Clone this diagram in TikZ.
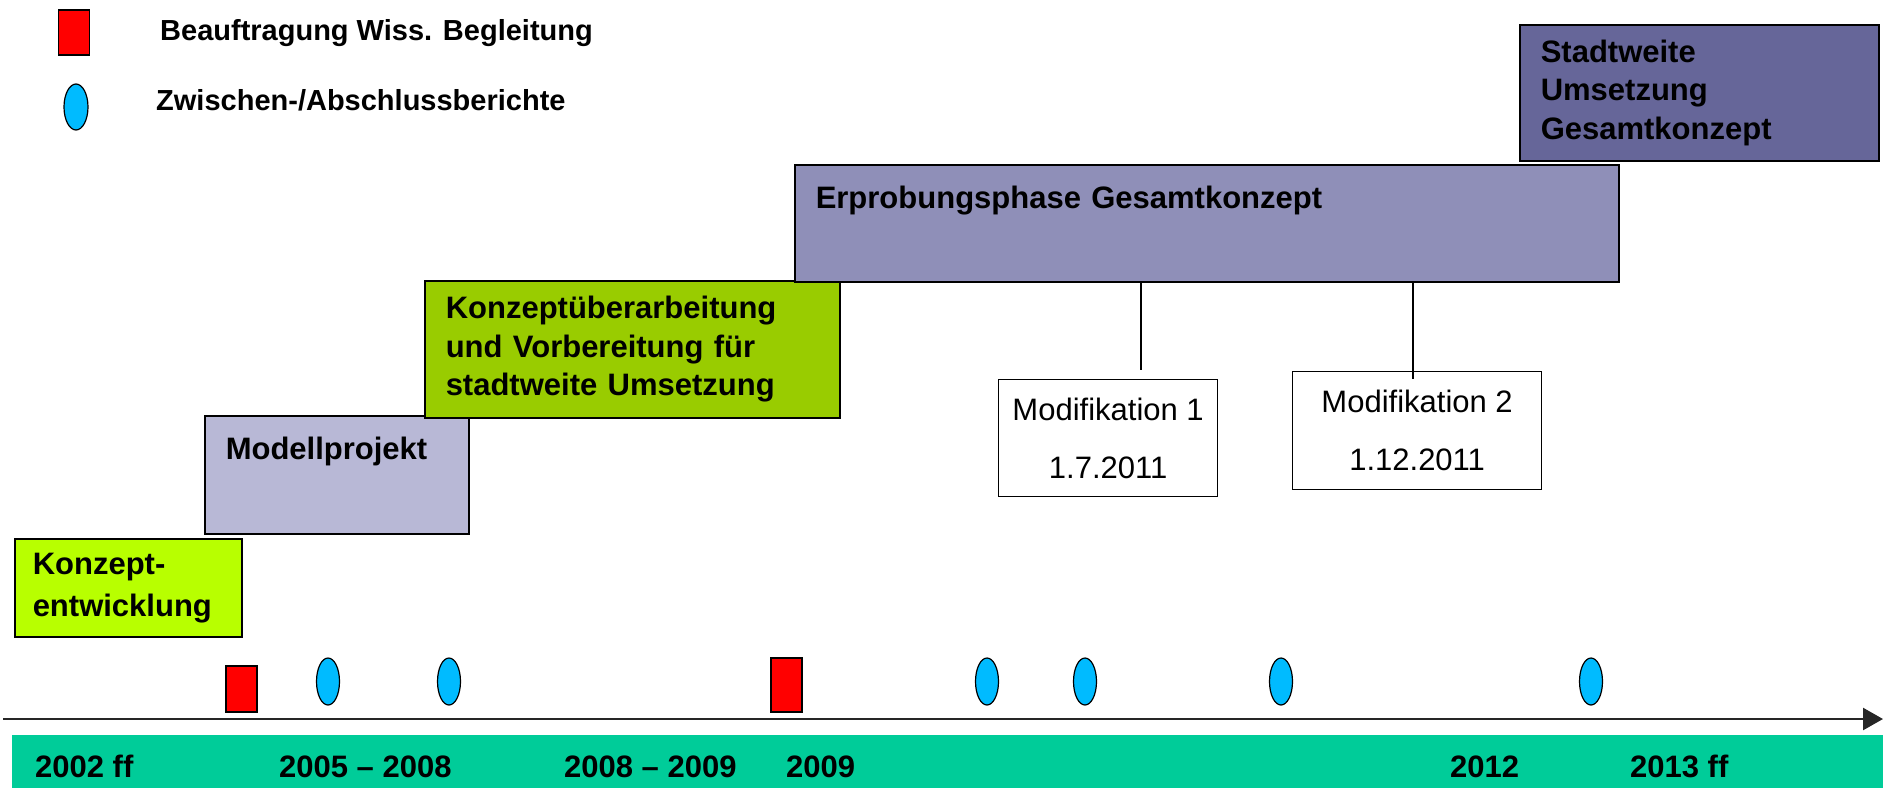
\documentclass[tikz,border=0pt]{standalone}
\usepackage{fontspec}
\setmainfont{Liberation Sans}
\usepackage{xcolor}
\usepackage{tikz}
\usetikzlibrary{arrows.meta,positioning,shapes.geometric,calc}

\definecolor{limeA}{HTML}{B8FF00}
\definecolor{limeB}{HTML}{99CC00}
\definecolor{lilaA}{HTML}{B8B8D6}
\definecolor{lilaB}{HTML}{8F8FB8}
\definecolor{lilaC}{HTML}{666699}
\definecolor{bandgreen}{HTML}{00CC99}
\definecolor{berichtblue}{HTML}{00BBFF}

\begin{document}
\begin{tikzpicture}[
  x=1pt,y=-1pt,
  phase/.style={draw,line width=1.5pt,anchor=north west,align=left,inner ysep=0pt,inner xsep=21pt,font=\fontsize{31}{38.5}\selectfont\bfseries},
  modbox/.style={draw,fill=white,line width=1.2pt,anchor=north west,align=center,inner sep=0pt,font=\fontsize{31}{58}\selectfont},
  auftrag/.style={draw,line width=1.2pt,fill=red,inner sep=0pt,minimum width=31pt,minimum height=46pt},
  bericht/.style={draw,ellipse,line width=1.2pt,fill=berichtblue,inner sep=0pt,minimum width=23pt,minimum height=47pt},
  legend/.style={anchor=base west,inner sep=0pt,font=\fontsize{29}{34}\selectfont\bfseries},
  year/.style={anchor=base west,inner sep=0pt,font=\fontsize{31}{36}\selectfont\bfseries}
]
\useasboundingbox (0,0) rectangle (1883,788);

\node[auftrag,minimum height=45pt] (LA) at (74,32.5) {};
\node[legend] (LAt) at (160,40) {Beauftragung Wiss. Begleitung};
\node[bericht,minimum width=24pt,minimum height=46pt] (LB) at (76,107) {};
\node[legend] (LBt) at (156,110) {Zwischen-/Abschlussberichte};

\node[phase,fill=limeA,inner xsep=18pt,text width=191pt,minimum height=98pt,font=\fontsize{31}{42}\selectfont\bfseries] (P1) at (14,538) {Konzept-\\entwicklung};
\node[phase,fill=lilaA,text width=222pt,text height=44pt,text depth=74pt] (P2) at (204,415) {Modellprojekt};
\node[phase,fill=limeB,text width=373pt,minimum height=137pt] (P3) at (424,280) {Konzeptüberarbeitung\\und Vorbereitung für\\stadtweite Umsetzung};
\node[phase,fill=lilaB,text width=782pt,text height=44pt,text depth=73pt] (P4) at (794,164) {Erprobungsphase Gesamtkonzept};
\node[phase,fill=lilaC,text width=317pt,minimum height=136pt] (P5) at (1519,24) {Stadtweite\\Umsetzung\\Gesamtkonzept};

\node[modbox,minimum width=219pt,minimum height=117pt] (M1) at (998,379) {Modifikation 1\\1.7.2011};
\node[modbox,minimum width=249pt,minimum height=118pt] (M2) at (1292,371) {Modifikation 2\\1.12.2011};
\coordinate (m1) at (1141,370);
\coordinate (m2) at (1413,379);
\draw[line width=1.2pt] (P4.south -| m1) -- (m1);
\draw[line width=1.2pt] (P4.south -| m2) -- (m2);

\fill[bandgreen] (12,735) rectangle (1883,788);
\coordinate (t0) at (3,719);
\coordinate (t1) at (1883,719);
\draw[line width=2.5pt,black!85,-{Triangle[length=20pt,width=22pt]}] (t0) -- (t1);

\node[auftrag] (A1) at (241.5,689) {};
\node[auftrag,minimum height=54pt] (A2) at (786.5,685) {};
\foreach \x in {328,449,987,1085,1281,1591}
  \node[bericht] (B\x) at (\x,681.5) {};

\node[year] (Y1) at (35,777) {2002 ff};
\node[year] (Y2) at (279,777) {2005 -- 2008};
\node[year] (Y3) at (564,777) {2008 -- 2009};
\node[year] (Y4) at (786,777) {2009};
\node[year] (Y5) at (1450,777) {2012};
\node[year] (Y6) at (1630,777) {2013 ff};
\end{tikzpicture}
\end{document}
